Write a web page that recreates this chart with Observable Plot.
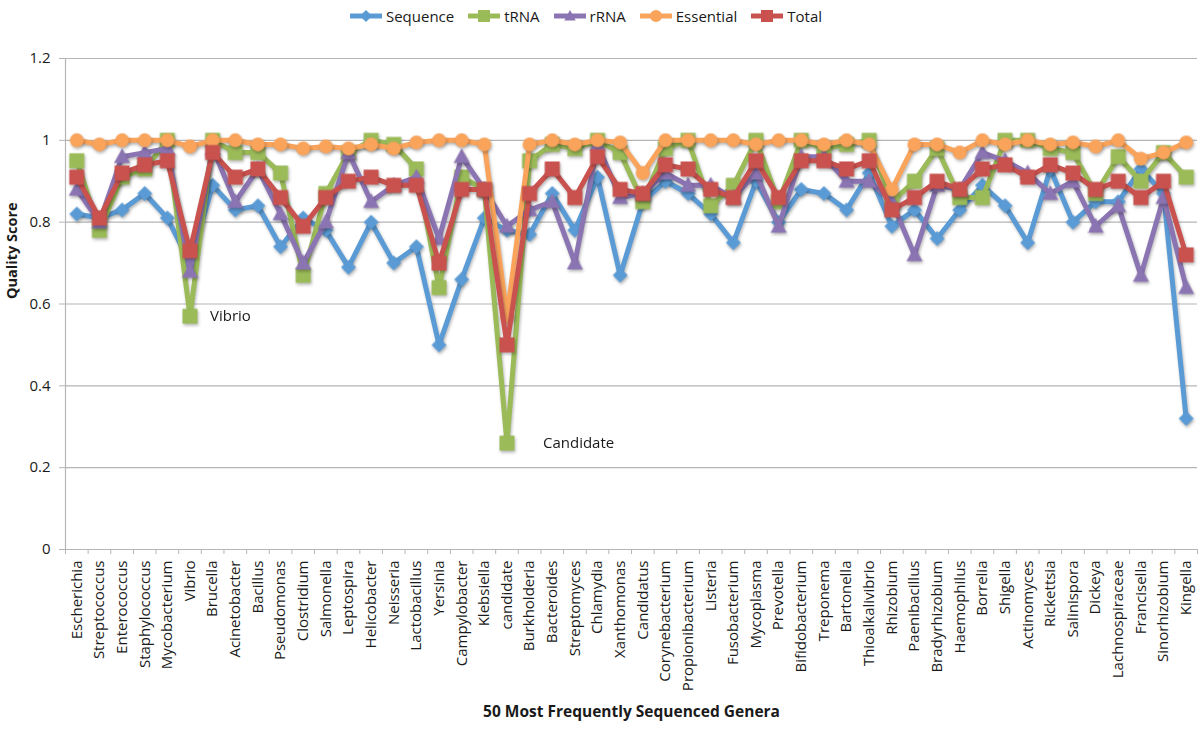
<!DOCTYPE html>
<html><head><meta charset="utf-8">
<script src="https://cdn.jsdelivr.net/npm/d3@7"></script>
<script src="https://cdn.jsdelivr.net/npm/@observablehq/plot@0.6"></script>
<style>
body{margin:0;background:#fff;font-family:"Open Sans",sans-serif;}
#legend{height:32px;display:flex;justify-content:center;align-items:center;gap:12px;font-size:15px;color:#1a1a1a;padding-right:30px;box-sizing:border-box;width:1200px;}
#legend .item{display:flex;align-items:center;gap:2px;}
#chart g[aria-label="line"], #chart g[aria-label="dot"]{filter:drop-shadow(1px 2px 1.5px rgba(0,0,0,0.28));}
</style></head>
<body><div id="legend"></div><div id="chart"></div>
<script>
const genera = ["Escherichia","Streptococcus","Enterococcus","Staphylococcus","Mycobacterium","Vibrio","Brucella","Acinetobacter","Bacillus","Pseudomonas","Clostridium","Salmonella","Leptospira","Helicobacter","Neisseria","Lactobacillus","Yersinia","Campylobacter","Klebsiella","candidate","Burkholderia","Bacteroides","Streptomyces","Chlamydia","Xanthomonas","Candidatus","Corynebacterium","Propionibacterium","Listeria","Fusobacterium","Mycoplasma","Prevotella","Bifidobacterium","Treponema","Bartonella","Thioalkalivibrio","Rhizobium","Paenibacillus","Bradyrhizobium","Haemophilus","Borrelia","Shigella","Actinomyces","Rickettsia","Salinispora","Dickeya","Lachnospiraceae","Francisella","Sinorhizobium","Kingella"];

const sequence = [0.82,0.81,0.83,0.87,0.81,0.70,0.89,0.83,0.84,0.74,0.81,0.78,0.69,0.80,0.70,0.74,0.50,0.66,0.81,0.78,0.77,0.87,0.78,0.91,0.67,0.85,0.90,0.87,0.82,0.75,0.90,0.80,0.88,0.87,0.83,0.92,0.79,0.83,0.76,0.83,0.89,0.84,0.75,0.93,0.80,0.85,0.85,0.93,0.87,0.32];
const trna     = [0.95,0.78,0.91,0.93,1.00,0.57,1.00,0.97,0.97,0.92,0.67,0.87,0.97,1.00,0.99,0.93,0.64,0.91,0.88,0.26,0.95,0.99,0.98,1.00,0.97,0.85,0.98,1.00,0.84,0.89,1.00,0.85,1.00,0.98,0.99,1.00,0.85,0.90,0.98,0.86,0.86,1.00,1.00,0.98,0.97,0.87,0.96,0.90,0.97,0.91];
const rrna     = [0.88,0.80,0.96,0.97,0.98,0.68,0.98,0.85,0.93,0.82,0.70,0.80,0.97,0.85,0.89,0.91,0.76,0.96,0.88,0.79,0.83,0.85,0.70,0.99,0.86,0.87,0.92,0.89,0.89,0.86,0.92,0.79,0.96,0.96,0.90,0.90,0.85,0.72,0.89,0.88,0.97,0.95,0.92,0.87,0.90,0.79,0.84,0.67,0.86,0.64];
const essential= [1.00,0.99,1.00,1.00,1.00,0.985,1.00,1.00,0.99,0.99,0.98,0.985,0.98,0.99,0.98,0.995,1.00,1.00,0.99,0.57,0.99,1.00,0.99,1.00,0.995,0.92,1.00,1.00,1.00,1.00,0.99,1.00,1.00,0.99,1.00,0.99,0.88,0.99,0.99,0.97,1.00,0.99,1.00,0.99,0.995,0.985,1.00,0.955,0.97,0.995];
const total    = [0.91,0.81,0.92,0.94,0.95,0.73,0.97,0.91,0.93,0.86,0.79,0.86,0.90,0.91,0.89,0.89,0.70,0.88,0.88,0.50,0.87,0.93,0.86,0.96,0.88,0.87,0.94,0.93,0.88,0.86,0.95,0.86,0.95,0.95,0.93,0.95,0.83,0.86,0.90,0.88,0.93,0.94,0.91,0.94,0.92,0.88,0.90,0.86,0.90,0.72];

const seriesNames  = ["Sequence","tRNA","rRNA","Essential","Total"];
const seriesValues = [sequence, trna, rrna, essential, total];
const seriesColors = ["#5b9bd5","#9bbb59","#8b74b2","#f9a35b","#c9524f"];
const seriesShapes = ["diamond","square","triangle","circle","square"];
const yTicks = [0,0.2,0.4,0.6,0.8,1,1.2];
const annotations = [{genus:"Vibrio",label:"Vibrio",offset:20},{genus:"candidate",label:"Candidate",offset:36}];

const shapeSize = {diamond:7.5, square:7.5, triangle:8.5, circle:7};
function makeSymbol(kind){
  return {draw(ctx, size){
    const h = Math.sqrt(size/Math.PI);
    if(kind==="diamond"){ctx.moveTo(0,-h);ctx.lineTo(h,0);ctx.lineTo(0,h);ctx.lineTo(-h,0);ctx.closePath();}
    else if(kind==="square"){ctx.rect(-h,-h,2*h,2*h);}
    else if(kind==="triangle"){ctx.moveTo(0,-h);ctx.lineTo(h*0.95,h*0.75);ctx.lineTo(-h*0.95,h*0.75);ctx.closePath();}
    else {ctx.moveTo(h,0);ctx.arc(0,0,h,0,2*Math.PI);}
  }};
}

const rows = seriesNames.map((s,k)=>genera.map((g,i)=>({series:s, i, genus:g, value:seriesValues[k][i]})));

const xDomain = [-0.5, genera.length-0.5];
const marks = [
  Plot.gridY(yTicks, {stroke:"#b5b5b5", strokeOpacity:1, strokeWidth:1.2}),
  Plot.ruleX([xDomain[0]], {stroke:"#b5b5b5", strokeWidth:1.2}),
  Plot.ruleY([0], {stroke:"#b5b5b5", strokeWidth:1.2}),
  Plot.axisY(yTicks, {tickSize:6, tickPadding:9, stroke:"#b5b5b5", fill:"#1a1a1a", tickFormat:d3.format("~g"), fontSize:15, label:null}),
  Plot.axisX(d3.range(genera.length+1).map(i=>i-0.5), {tickSize:5, tickFormat:()=>"", stroke:"#b5b5b5", label:null}),
  Plot.axisX(d3.range(genera.length), {tickSize:0, tickPadding:11, tickRotate:-90, tickFormat:i=>genera[i], fontSize:15, fill:"#1a1a1a", label:null}),
];
seriesNames.forEach((s,k)=>{
  marks.push(Plot.line(rows[k], {x:"i", y:"value", stroke:seriesColors[k], strokeWidth:5, strokeLinejoin:"miter"}));
  marks.push(Plot.dot(rows[k], {x:"i", y:"value", fill:seriesColors[k], stroke:"none", r:shapeSize[seriesShapes[k]], symbol:makeSymbol(seriesShapes[k])}));
});
annotations.forEach(a=>{
  const idx = genera.indexOf(a.genus);
  marks.push(Plot.text([a], {x:()=>idx, y:()=>trna[idx], text:"label", textAnchor:"start", dx:a.offset, fontSize:15, fill:"#1a1a1a"}));
});
marks.push(Plot.text(["Quality Score"], {frameAnchor:"left", dx:-53, dy:-5, rotate:-90, fontWeight:"bold", fontSize:14.5, fill:"#1a1a1a"}));
marks.push(Plot.text(["50 Most Frequently Sequenced Genera"], {frameAnchor:"bottom", dy:167, fontWeight:"bold", fontSize:15.5, fill:"#1a1a1a"}));

const chart = Plot.plot({
  width:1200, height:698,
  marginTop:26, marginBottom:181, marginLeft:65, marginRight:3,
  style:{fontFamily:"'Open Sans', sans-serif", fontSize:"13px", background:"#fff", overflow:"visible"},
  x:{type:"linear", domain:xDomain, axis:null},
  y:{domain:[0,1.2], axis:null},
  marks
});
document.getElementById("chart").append(chart);

// legend
const legend = d3.select("#legend");
seriesNames.forEach((s,k)=>{
  const item = legend.append("div").attr("class","item");
  const svg = item.append("svg").attr("width",36).attr("height",16);
  svg.append("line").attr("x1",2).attr("x2",34).attr("y1",8).attr("y2",8).attr("stroke",seriesColors[k]).attr("stroke-width",5);
  const sym = makeSymbol(seriesShapes[k]);
  const p = d3.path(); const r = 6; sym.draw(p, r*r*Math.PI);
  svg.append("path").attr("d", p.toString()).attr("transform","translate(18,8)").attr("fill",seriesColors[k]);
  item.append("span").text(s);
});
</script></body></html>
